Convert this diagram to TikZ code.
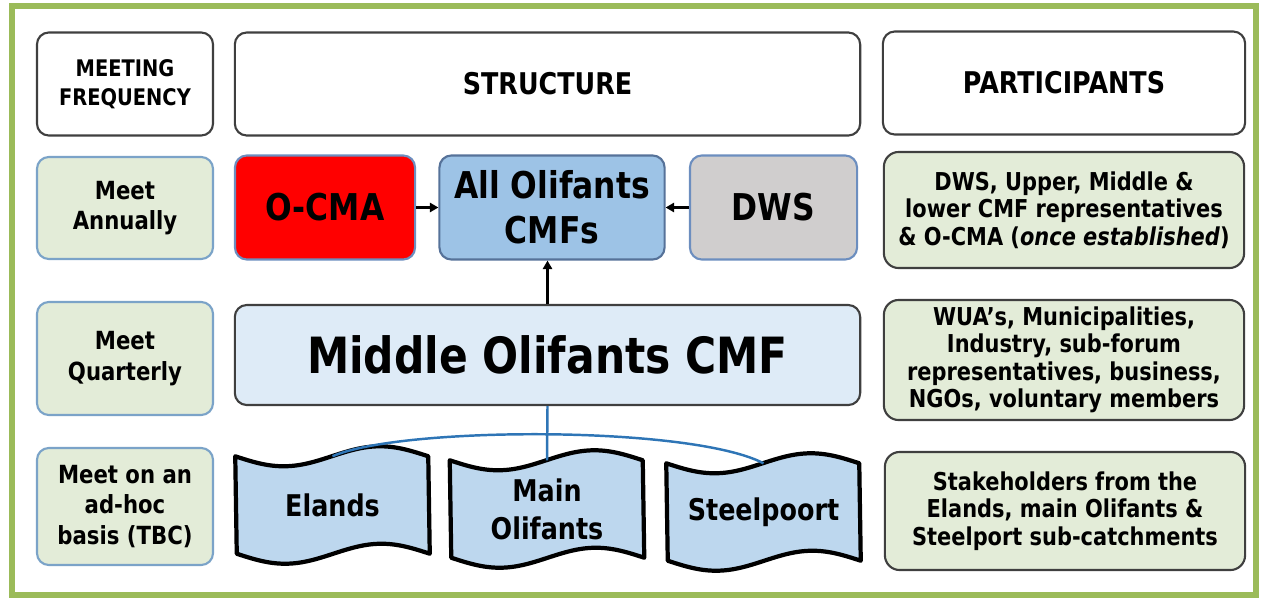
\documentclass[tikz,border=0pt]{standalone}
\usepackage{fontspec}
\setmainfont{DejaVu Sans}[FakeStretch=0.85]
\usetikzlibrary{arrows.meta,
                backgrounds}

\definecolor{framegreen}{HTML}{9BBB59}
\definecolor{palegreen}{HTML}{E3ECD8}
\definecolor{freqblue}{HTML}{7BA3C8}
\definecolor{boxgray}{HTML}{3F3F3F}
\definecolor{ocmared}{HTML}{FF0000}
\definecolor{edgeblue}{HTML}{6C8EBF}
\definecolor{cmfblue}{HTML}{9DC3E6}
\definecolor{dwsgray}{HTML}{D0CECE}
\definecolor{midblue}{HTML}{DEEBF7}
\definecolor{tapeblue}{HTML}{BDD7EE}
\definecolor{linkblue}{HTML}{2E75B6}

\newcommand{\tapeedge}[1]{%
  \draw[tapeline] (#1.north west) sin ++(48.25,10) cos ++(48.25,-10) sin ++(48.25,-10) cos ++(48.25,10)
    -- (#1.south east) sin ++(-48.25,-10) cos ++(-48.25,10) sin ++(-48.25,10) cos ++(-48.25,-10) -- cycle;}

\begin{document}
\begin{tikzpicture}[x=0.01cm, y=-0.01cm,
    box/.style = {draw=boxgray, line width=0.6pt, rounded corners=3.4pt, align=center, inner sep=0pt},
    head/.style = {box, fill=white, minimum height=1.03cm, font=\bfseries\fontsize{8.5}{10}\selectfont},
    freq/.style = {box, draw=freqblue, fill=palegreen, minimum width=1.76cm, font=\bfseries\fontsize{7.1}{8.7}\selectfont},
    part/.style = {box, fill=palegreen, rounded corners=4.2pt, minimum width=3.6cm, font=\bfseries\fontsize{7}{7.8}\selectfont},
    unit/.style = {box, draw=edgeblue, minimum height=1.04cm, font=\bfseries\fontsize{10.5}{12.8}\selectfont},
    tape/.style = {align=center, inner sep=0pt, minimum width=1.93cm, minimum height=0.96cm, font=\bfseries\fontsize{8.5}{10.8}\selectfont},
    tapeline/.style = {draw=black, fill=tapeblue, line width=1.2pt, line join=round},
    arr/.style = {-{Triangle[length=2.4pt, width=2.6pt]}, line width=0.6pt, black},
    link/.style = {linkblue, line width=0.7pt}]
    \useasboundingbox (0,0) rectangle (1267,600);
    \draw[framegreen, line width=1.5pt] (12,6) rectangle (1256,595);

    \node[head, minimum width=1.76cm, font=\bfseries\fontsize{6.5}{8.25}\selectfont] (freqhead) at (125,84) {MEETING\\FREQUENCY};
    \node[head, minimum width=6.25cm] (structhead) at (547.5,84) {STRUCTURE};
    \node[head, minimum width=3.62cm] (parthead) at (1064,83) {PARTICIPANTS};

    \node[freq, minimum height=1.02cm] (annual) at (125,208) {Meet\\Annually};
    \node[freq, minimum height=1.13cm] (quarterly) at (125,358.5) {Meet\\Quarterly};
    \node[freq, minimum height=1.17cm] (adhoc) at (125,506.5) {Meet on an\\ad-hoc\\basis (TBC)};

    \node[unit, fill=ocmared, minimum width=1.8cm] (ocma) at (325,207.5) {O-CMA};
    \node[unit, fill=cmfblue, draw=edgeblue!80!black, minimum width=2.25cm] (allcmf) at (552,207.5) {All Olifants\\CMFs};
    \node[unit, fill=dwsgray, minimum width=1.67cm] (dws) at (773.5,207.5) {DWS};
    \node[box, fill=midblue, minimum width=6.25cm, minimum height=1cm, font=\bfseries\fontsize{14.2}{16}\selectfont] (middle) at (547.5,355) {Middle Olifants CMF};

    \node[tape] (elands) at (332.5,505) {Elands};
    \node[tape] (main) at (547,509) {Main\\Olifants};
    \node[tape] (steel) at (763.5,512) {Steelpoort};
    \begin{scope}[on background layer]
        \tapeedge{elands}
        \tapeedge{main}
        \tapeedge{steel}
    \end{scope}

    \node[part, minimum height=1.16cm] (partannual) at (1064,210) {DWS, Upper, Middle \&\\lower CMF representatives\\\& O-CMA (\textit{once established})};
    \node[part, minimum height=1.2cm] (partquarter) at (1064,360) {WUA’s, Municipalities,\\Industry, sub-forum\\representatives, business,\\NGOs, voluntary members};
    \node[part, minimum height=1.18cm] (partadhoc) at (1065,511) {Stakeholders from the\\Elands, main Olifants \&\\Steelport sub-catchments};

    \draw[arr] (ocma) -- (allcmf);
    \draw[arr] (dws) -- (allcmf);
    \draw[arr] (middle.north) -- (middle.north |- allcmf.south);

    \draw[link] (middle.south) -- (main.north);
    \draw[link] (elands.north) .. controls +(68,-30) and +(-73,-38) .. (steel.north);
\end{tikzpicture}
\end{document}
